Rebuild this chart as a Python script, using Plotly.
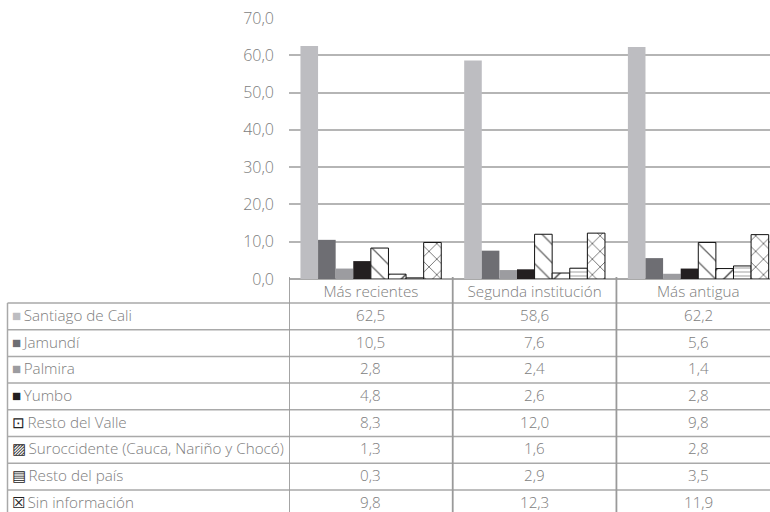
import plotly.graph_objects as go

# Categories (institution order) and series values, in percent
categorias = ["Más recientes", "Segunda institución", "Más antigua"]
santiago = [62.5, 58.6, 62.2]
jamundi = [10.5, 7.6, 5.6]
palmira = [2.8, 2.4, 1.4]
yumbo = [4.8, 2.6, 2.8]
resto_valle = [8.3, 12.0, 9.8]
suroccidente = [1.3, 1.6, 2.8]
resto_pais = [0.3, 2.9, 3.5]
sin_info = [9.8, 12.3, 11.9]

series_nombres = [
    "Santiago de Cali", "Jamundí", "Palmira", "Yumbo", "Resto del Valle",
    "Suroccidente (Cauca, Nariño y Chocó)", "Resto del país", "Sin información",
]
series_valores = [santiago, jamundi, palmira, yumbo, resto_valle,
                  suroccidente, resto_pais, sin_info]
y_ticks = [0, 10, 20, 30, 40, 50, 60, 70]

# Styles: (fill colour, pattern shape, pattern size, pattern colour, legend glyph)
estilos = [
    ("#bdbdc1", "", 8, None, "■"),
    ("#6e6e73", "", 8, None, "■"),
    ("#9c9ca0", "", 8, None, "■"),
    ("#231f20", "", 8, None, "■"),
    ("white", "\\", 13, "#666666", "⊡"),
    ("white", "/", 12, "#111111", "▨"),
    ("white", "-", 4, "#111111", "▤"),
    ("white", "x", 11, "#111111", "☒"),
]

W, H = 770, 512
ML, MR, MT, MB = 289, 0, 18, 233
plot_h = H - MT - MB
TXT = "#7d7d7d"
LINE = "#a9a9a9"
FONT = "'Open Sans', Lato, sans-serif"
FS = 15.2

fig = go.Figure()
for nombre, vals, (color, shape, psize, pcol, _) in zip(series_nombres, series_valores, estilos):
    marker = dict(color=color)
    if shape:
        marker["pattern"] = dict(shape=shape, fgcolor=pcol, bgcolor="white",
                                 size=psize, solidity=0.1, fillmode="replace")
        marker["line"] = dict(color="#111111", width=1)
    else:
        marker["line"] = dict(width=0)
    fig.add_trace(go.Bar(name=nombre, x=categorias, y=vals, marker=marker,
                         showlegend=False, hoverinfo="x+y+name"))


def py(pix):
    """Pixel row -> paper y coordinate."""
    return (H - MB - pix) / plot_h


def px(pix):
    """Pixel column -> paper x coordinate."""
    return (pix - ML) / (W - ML - MR)


shapes = []
annotations = []

# Table row boundaries (pixels) below the plot
row_top = 303
row_h = 26.7
filas = [row_top + i * row_h for i in range(len(series_nombres) + 1)]

# Horizontal table lines
for yb in filas:
    shapes.append(dict(type="line", xref="paper", yref="paper",
                       x0=px(7.5), x1=1, y0=py(yb), y1=py(yb),
                       line=dict(color=LINE, width=1.5)))
# Left border of the label column
shapes.append(dict(type="line", xref="paper", yref="paper",
                   x0=px(7.5), x1=px(7.5), y0=py(row_top), y1=py(H + 10),
                   line=dict(color=LINE, width=1.5)))
# Column separators aligned with the category bands
for xb in [-0.5, 0.5, 1.5]:
    shapes.append(dict(type="line", xref="x", yref="paper",
                       x0=xb, x1=xb, y0=py(277), y1=py(H + 10),
                       line=dict(color="#9a9a9a", width=1.8)))

# Row labels with legend glyphs, and the values
for i, (nombre, vals, est) in enumerate(zip(series_nombres, series_valores, estilos)):
    yc = py(filas[i] + row_h / 2 - 1.5)
    glyph_color = est[0] if est[1] == "" else "#222222"
    annotations.append(dict(
        xref="paper", yref="paper", x=px(10), y=yc, xanchor="left", yanchor="middle",
        text=f"<span style='color:{glyph_color}'>{est[4]}</span>\u2009{nombre}",
        showarrow=False, height=18,
        font=dict(size=FS, color=TXT, family=FONT, weight=300)))
    for cat, v in zip(categorias, vals):
        annotations.append(dict(
            xref="x", yref="paper", x=cat, y=yc, xanchor="center", yanchor="middle",
            text=f"{v:.1f}".replace(".", ","), showarrow=False, height=18,
            font=dict(size=FS, color=TXT, family=FONT, weight=300)))

fig.update_layout(
    width=W, height=H,
    margin=dict(l=ML, r=MR, t=MT, b=MB, pad=0),
    paper_bgcolor="white", plot_bgcolor="white",
    barmode="group", bargap=0.14, bargroupgap=0,
    separators=",.",
    font=dict(family=FONT, color=TXT, size=FS, weight=300),
    shapes=shapes, annotations=annotations,
    xaxis=dict(range=[-0.5, 2.438], showgrid=False, zeroline=False, showline=False,
               ticks="", tickfont=dict(size=FS, color=TXT, family=FONT, weight=300),
               ticklabelstandoff=2),
    yaxis=dict(range=[0, 70], tickvals=y_ticks, tickformat=".1f",
               showgrid=True, gridcolor="#b5b5b5", gridwidth=1.5,
               zeroline=True, zerolinecolor="#a9a9a9", zerolinewidth=1.5,
               showline=False, ticks="", ticklabelstandoff=14,
               tickfont=dict(size=16, color=TXT, family=FONT, weight=300)),
)

fig.write_html("out.html")
